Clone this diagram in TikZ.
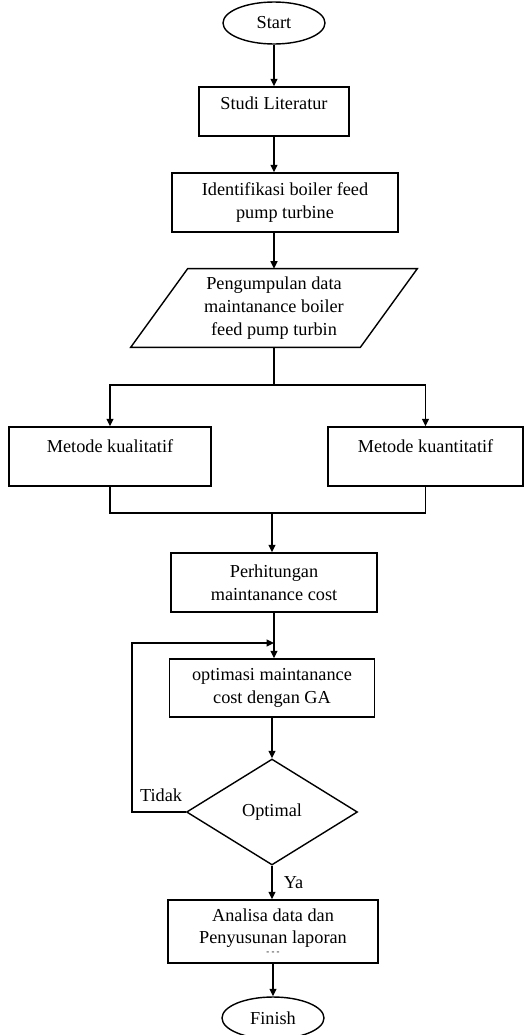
\documentclass[tikz,border=0pt]{standalone}
\usepackage{fontspec}
\setmainfont{Liberation Serif}
\usetikzlibrary{shapes.geometric, arrows.meta}

\begin{document}
\begin{tikzpicture}[x=0.02cm,y=-0.02cm,font=\fontsize{10.4}{13}\selectfont,box/.style={draw=black,line width=0.8pt,align=center,inner sep=2pt},term/.style={box,ellipse,minimum width=2.04cm,minimum height=0.84cm},proc/.style={box,rectangle,minimum height=1.18cm},io/.style={align=center,inner sep=0pt,minimum width=4.58cm,minimum height=1.56cm},cond/.style={box,diamond,aspect=1.6,minimum width=3.42cm,minimum height=2.12cm},arrow/.style={line width=0.8pt,-{Triangle[length=1.5mm,width=1.4mm]}},line/.style={line width=0.8pt},lbl/.style={inner sep=0pt}]
\useasboundingbox (0,0) rectangle (531,1035);
\node[term] (start) at (274,23) {Start};
\node[proc,minimum width=3cm,minimum height=0.98cm,text depth=10pt] (studi) at (274,111.5) {Studi Literatur};\draw[arrow] (start) -- (studi);
\node[proc,minimum width=4.52cm] (ident) at (285,202.5) {Identifikasi boiler feed\\pump turbine};\draw[arrow] (studi.south) -- (studi.south |- ident.north);
\node[io] (data) at (274,308) {Pengumpulan data\\maintanance boiler\\feed pump turbin};
\draw[line] ([xshift=0.57cm]data.north west) -- ([xshift=0.57cm]data.north east) -- ([xshift=-0.57cm]data.south east) -- ([xshift=-0.57cm]data.south west) -- cycle;
\draw[arrow] (ident.south -| data.north) -- (data.north);
\node[proc,minimum width=4.04cm,text depth=12pt] (kual) at (110,456.5) {Metode kualitatif};
\node[proc,minimum width=3.9cm,text depth=12pt] (kuan) at (425.5,456.5) {Metode kuantitatif};
\coordinate (split) at (274,385);\coordinate (join) at (272,513);
\draw[line] (data.south) -- (split);\draw[arrow] (split) -| (kual.north);\draw[arrow] (split) -| (kuan.north);
\draw[line] (kual.south) |- (join) -| (kuan.south);
\node[proc,minimum width=4.12cm] (hitung) at (274,582.5) {Perhitungan\\maintanance cost};\draw[arrow] (join) -- (join |- hitung.north);
\node[proc,minimum width=4.1cm,minimum height=1.16cm] (optim) at (272,688) {optimasi maintanance\\cost dengan GA};\draw[arrow] (hitung.south) -- (hitung.south |- optim.north);
\node[cond] (cek) at (272,812) {Optimal};\draw[arrow] (optim.south) -- (cek.north);
\coordinate (back) at (274,643);
\draw[arrow] (cek.west) -- ++(-1.08cm,0) |- (back);
\node[lbl] (tidak) at (161,795) {Tidak};
\node[proc,minimum width=4.2cm,minimum height=1.26cm] (analisa) at (273,931.5) {Analisa data dan\\Penyusunan laporan\\[-7pt]{\tiny - - -}};
\draw[arrow] (cek.south) -- (cek.south |- analisa.north) node[midway,right=3pt] (ya) {Ya};
\node[term] (finish) at (273,1018) {Finish};\draw[arrow] (analisa.south) -- (finish.north);
\end{tikzpicture}
\end{document}
